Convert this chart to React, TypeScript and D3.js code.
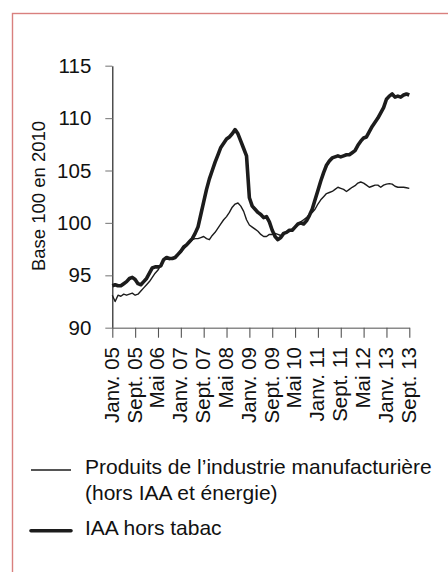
import React, { useEffect, useRef } from 'react';
import * as d3 from 'd3';

// Monthly indices, Jan. 2005 -> Sept. 2013 (base 100 en 2010)
const iaaHorsTabac: number[] = [
  94.0, 94.1, 94.0, 94.0, 94.2, 94.4, 94.7, 94.8, 94.6, 94.2, 94.1, 94.4,
  94.7, 95.2, 95.7, 95.8, 95.8, 95.9, 96.5, 96.7, 96.6, 96.6, 96.7, 97.0,
  97.3, 97.7, 97.9, 98.2, 98.5, 99.0, 99.6, 100.8, 102.0, 103.2, 104.2, 105.0,
  105.8, 106.5, 107.2, 107.6, 108.0, 108.2, 108.5, 108.9, 108.5, 107.8, 107.1, 106.4,
  102.4, 101.6, 101.3, 101.0, 100.8, 100.5, 100.6, 100.1, 99.3, 98.7, 98.4, 98.6,
  99.0, 99.1, 99.3, 99.3, 99.6, 99.9, 100.0, 99.9, 100.2, 100.7, 101.3, 102.2,
  103.1, 104.0, 104.8, 105.5, 105.9, 106.2, 106.3, 106.4, 106.3, 106.4, 106.5, 106.5,
  106.7, 106.9, 107.4, 107.8, 108.1, 108.2, 108.7, 109.2, 109.6, 110.0, 110.5, 111.0,
  111.8, 112.1, 112.3, 112.0, 112.1, 112.0, 112.2, 112.3, 112.2,
];

const industrieManuf: number[] = [
  93.1, 92.5, 93.1, 93.0, 93.2, 93.1, 93.2, 93.3, 93.1, 93.2, 93.5, 93.8,
  94.1, 94.4, 94.8, 95.2, 95.5, 96.0, 96.5, 96.6, 96.5, 96.6, 96.7, 96.9,
  97.2, 97.5, 97.8, 98.1, 98.4, 98.5, 98.5, 98.6, 98.7, 98.5, 98.4, 98.8,
  99.1, 99.5, 99.9, 100.3, 100.6, 101.0, 101.5, 101.8, 101.9, 101.6, 101.1, 100.3,
  99.8, 99.6, 99.4, 99.2, 98.9, 98.7, 98.7, 98.9, 98.9, 99.0, 98.9, 98.8,
  98.9, 99.1, 99.2, 99.4, 99.6, 99.9, 100.1, 100.3, 100.5, 100.8, 101.0, 101.3,
  101.8, 102.2, 102.5, 102.8, 102.9, 103.0, 103.2, 103.4, 103.3, 103.2, 103.0, 103.2,
  103.4, 103.55, 103.8, 103.9, 103.8, 103.6, 103.4, 103.5, 103.6, 103.6, 103.4, 103.6,
  103.7, 103.75, 103.7, 103.5, 103.4, 103.4, 103.4, 103.35, 103.3,
];

const xTickLabels = [
  'Janv. 05', 'Sept. 05', 'Mai 06', 'Janv. 07', 'Sept. 07', 'Mai 08', 'Janv. 09',
  'Sept. 09', 'Mai 10', 'Janv. 11', 'Sept. 11', 'Mai 12', 'Janv. 13', 'Sept. 13',
];
const yTicks = [90, 95, 100, 105, 110, 115];

const legendItems = [
  { lines: ['Produits de l\u2019industrie manufacturi\u00e8re', '(hors IAA et \u00e9nergie)'], width: 1.4 },
  { lines: ['IAA hors tabac'], width: 3.6 },
];

const W = 448;
const H = 572;
const FONT = '"Liberation Sans", Arial, sans-serif';

export default function App() {
  const ref = useRef<SVGSVGElement>(null);

  useEffect(() => {
    if (!ref.current) return;
    const svg = d3.select(ref.current);
    svg.selectAll('*').remove();

    // frame
    svg.append('rect')
      .attr('x', 12.5).attr('y', 13.5)
      .attr('width', 460).attr('height', 600)
      .attr('fill', 'none')
      .attr('stroke', '#d9807e')
      .attr('stroke-width', 1.4);

    const x = d3.scaleLinear().domain([0, iaaHorsTabac.length - 1]).range([112.3, 409.3]);
    const y = d3.scaleLinear().domain([90, 115]).range([327.7, 65.7]);

    // y axis
    const yAxis = svg.append('g')
      .attr('transform', `translate(${x(0)},0)`)
      .call(d3.axisLeft(y).tickValues(yTicks).tickSize(7).tickSizeOuter(0).tickPadding(14));
    yAxis.select('.domain').attr('stroke', '#222').attr('stroke-width', 1.2);
    yAxis.selectAll('.tick line').attr('stroke', '#8a8a8a').attr('stroke-width', 1.2);
    yAxis.selectAll('.tick text')
      .attr('font-family', FONT).attr('font-size', 20.5).attr('fill', '#111');

    // x axis
    const tickIdx = xTickLabels.map((_, i) => i * 8);
    const xAxis = svg.append('g')
      .attr('transform', `translate(0,${y(90)})`)
      .call(d3.axisBottom(x).tickValues(tickIdx).tickSize(10).tickSizeOuter(0).tickFormat(() => ''));
    xAxis.select('.domain').attr('stroke', '#8a8a8a').attr('stroke-width', 1.4);
    xAxis.selectAll('.tick line').attr('stroke', '#555').attr('stroke-width', 1.1);

    svg.append('g')
      .selectAll('text')
      .data(xTickLabels)
      .enter()
      .append('text')
      .attr('transform', (_, i) => `translate(${x(tickIdx[i]) - 1},347) rotate(-90)`)
      .attr('text-anchor', 'end')
      .attr('dy', '0.36em')
      .attr('font-family', FONT)
      .attr('font-size', 20.5)
      .attr('fill', '#111')
      .text(d => d);

    // y title
    svg.append('text')
      .attr('transform', `translate(38,196) rotate(-90)`)
      .attr('text-anchor', 'middle')
      .attr('dy', '0.36em')
      .attr('font-family', FONT)
      .attr('font-size', 18.5)
      .attr('fill', '#111')
      .text('Base 100 en 2010');

    // series
    const line = d3.line<number>()
      .x((_, i) => x(i))
      .y(d => y(d));

    svg.append('path')
      .datum(industrieManuf)
      .attr('d', line)
      .attr('fill', 'none')
      .attr('stroke', '#1c1c1c')
      .attr('stroke-width', 1.4)
      .attr('stroke-linejoin', 'round');

    svg.append('path')
      .datum(iaaHorsTabac)
      .attr('d', line)
      .attr('fill', 'none')
      .attr('stroke', '#1c1c1c')
      .attr('stroke-width', 3.6)
      .attr('stroke-linejoin', 'round');

    // legend
    const legendY = [470, 530.7];
    legendItems.forEach((item, i) => {
      const g = svg.append('g').attr('transform', `translate(0,${legendY[i]})`);
      g.append('line')
        .attr('x1', 31).attr('x2', 71)
        .attr('stroke', '#1c1c1c')
        .attr('stroke-width', item.width)
        .attr('stroke-linecap', item.width > 2 ? 'round' : 'butt');
      item.lines.forEach((t, j) => {
        g.append('text')
          .attr('x', 85)
          .attr('y', j * 26)
          .attr('dy', '0.2em')
          .attr('font-family', FONT)
          .attr('font-size', 21)
          .attr('fill', '#111')
          .text(t);
      });
    });
  }, []);

  return (
    <svg
      ref={ref}
      width={W}
      height={H}
      style={{ position: 'absolute', left: 0, top: 0, background: '#fff' }}
    />
  );
}
